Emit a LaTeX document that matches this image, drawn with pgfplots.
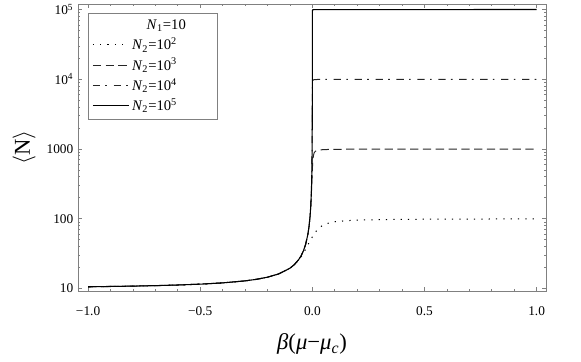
\documentclass[border=0pt]{standalone}
\usepackage{fontspec}
\setmainfont{Liberation Serif}
\usepackage{pgfplots}
\pgfplotsset{compat=1.18}
\definecolor{framegray}{gray}{0.5}

\begin{document}
\begin{tikzpicture}
\begin{axis}[
  name=ax,
  scale only axis, width=351pt, height=215.25pt,
  xmin=-1.045, xmax=1.042,
  ymode=log, ymin=9.2, ymax=120000,
  xtick={-1,-0.5,0,0.5,1},
  xticklabels={−1.0,−0.5,0.0,0.5,1.0},
  minor x tick num=4,
  ytick={10,100,1000,10000,100000},
  yticklabels={10,100,1000,10\textsuperscript{4},10\textsuperscript{5}},
  tick align=inside,
  axis line style={framegray, line width=0.6pt},
  every tick/.style={framegray, line width=0.5pt},
  major tick length=3pt, minor tick length=1.5pt,
  tick label style={font=\fontsize{10}{12}\selectfont, black},
  xticklabel shift=8pt,
  xlabel={\textit{β}(\textit{μ}−\textit{μ}\textsubscript{\textit{c}})},
  ylabel={$\langle$N$\rangle$},
  label style={font=\fontsize{17}{20}\selectfont},
  xlabel style={at={(axis description cs:0.5,-0.1847)}, anchor=center},
  ylabel style={at={(axis description cs:-0.1154,0.5)}, anchor=center},
  legend style={at={(axis description cs:0,1)}, anchor=north west, xshift=7.5pt, yshift=-6.75pt,
    draw=framegray, font=\fontsize{11}{12.5}\selectfont, row sep=0.6pt, inner xsep=3pt, inner ysep=3pt,
    cells={anchor=west}},
  legend image code/.code={\draw[#1] (0pt,0pt) -- (27pt,0pt);},
]
\addlegendimage{empty legend}
\addlegendentry{\makebox[59pt][l]{\hspace*{11pt}\textit{N}\textsubscript{1}=10}}

% N2 = 10^2
\addplot[black, line width=0.75pt, dash pattern=on 0.9pt off 4.6pt] coordinates {
(-1,10.58) (-0.9,10.69) (-0.8,10.82) (-0.7,10.99) (-0.6,11.22) (-0.5,11.54)
(-0.4,12.03) (-0.3,12.86) (-0.25,13.52) (-0.2,14.52) (-0.15,16.18) (-0.1,19.50)
(-0.08,21.94) (-0.06,25.78) (-0.05,28.53) (-0.04,32.05) (-0.03,36.5) (-0.02,41.9)
(-0.015,45.0) (-0.01,48.2) (-0.005,51.5) (0,55) (0.005,58.5) (0.01,61.8) (0.02,68.1)
(0.03,73.5) (0.04,77.95) (0.05,81.5) (0.075,87.3) (0.1,90.5) (0.15,93.8) (0.2,95.5)
(0.3,97.1) (0.4,98.0) (0.5,98.5) (0.6,98.8) (0.7,99.0) (0.8,99.2) (0.9,99.3) (1.0,99.4)
};
\addlegendentry{\textit{N}\textsubscript{2}=10\textsuperscript{2}}

% N2 = 10^3
\addplot[black!85, line width=0.75pt, dash pattern=on 6.2pt off 3.4pt] coordinates {
(-1,10.58) (-0.9,10.69) (-0.8,10.82) (-0.7,10.99) (-0.6,11.22) (-0.5,11.54)
(-0.4,12.03) (-0.3,12.86) (-0.25,13.52) (-0.2,14.52) (-0.15,16.18) (-0.1,19.51)
(-0.08,22.01) (-0.06,26.17) (-0.05,29.50) (-0.04,34.50) (-0.03,42.84) (-0.02,59.50)
(-0.015,76.2) (-0.01,109.45) (-0.007,151.4) (-0.005,202.5) (-0.003,289.4) (-0.002,351.1)
(-0.001,424.5) (0,505) (0.001,585.5) (0.002,658.9) (0.003,720.7) (0.005,807.5)
(0.0075,867.8) (0.01,900.6) (0.015,933.8) (0.02,950.5) (0.03,967.2) (0.05,980.5)
(0.1,990.5) (0.2,995.5) (0.5,998.5) (1,999.4)
};
\addlegendentry{\textit{N}\textsubscript{2}=10\textsuperscript{3}}

% N2 = 10^4
\addplot[black!85, line width=0.75pt, dash pattern=on 5.5pt off 4pt on 1.2pt off 5pt] coordinates {
(-1,10.58) (-0.9,10.69) (-0.8,10.82) (-0.7,10.99) (-0.6,11.22) (-0.5,11.54)
(-0.4,12.03) (-0.3,12.86) (-0.25,13.52) (-0.2,14.52) (-0.15,16.18) (-0.1,19.51)
(-0.08,22.01) (-0.06,26.17) (-0.05,29.50) (-0.04,34.50) (-0.03,42.84) (-0.02,59.50)
(-0.015,76.2) (-0.01,109.5) (-0.007,152.4) (-0.005,209.5) (-0.003,342.8) (-0.002,509.5)
(-0.001,1009.0) (-0.0005,1942) (-0.0003,2818) (-0.0002,3443) (-0.0001,4188) (0,5005)
(0.0001,5823) (0.0002,6568) (0.0003,7192) (0.0005,8068) (0.001,9001) (0.002,9500)
(0.005,9800) (0.01,9900) (0.05,9980) (0.1,9990) (1,9999.4)
};
\addlegendentry{\textit{N}\textsubscript{2}=10\textsuperscript{4}}

% N2 = 10^5
\addplot[black, line width=0.8pt] coordinates {
(-1,10.58) (-0.9,10.69) (-0.8,10.82) (-0.7,10.99) (-0.6,11.22) (-0.5,11.54)
(-0.4,12.03) (-0.3,12.86) (-0.25,13.52) (-0.2,14.52) (-0.15,16.18) (-0.1,19.51)
(-0.08,22.01) (-0.06,26.17) (-0.05,29.50) (-0.04,34.50) (-0.03,42.84) (-0.02,59.50)
(-0.015,76.2) (-0.01,109.5) (-0.007,152.4) (-0.005,209.5) (-0.003,342.8) (-0.002,509.5)
(-0.001,1009.5) (-0.0005,2010) (-0.0003,3343) (-0.0002,5010) (-0.0001,10005)
(-0.00005,19331) (-0.00002,34357) (-0.00001,41810) (0,50005) (0.00001,58200)
(0.0001,90005) (0.001,99000) (0.01,99900) (1,99999)
};
\addlegendentry{\textit{N}\textsubscript{2}=10\textsuperscript{5}}
\end{axis}
\pgfresetboundingbox
\useasboundingbox ([shift={(-58.5pt,-52.5pt)}]ax.south west) rectangle ([shift={(26.25pt,3pt)}]ax.north east);
\end{tikzpicture}
\end{document}
